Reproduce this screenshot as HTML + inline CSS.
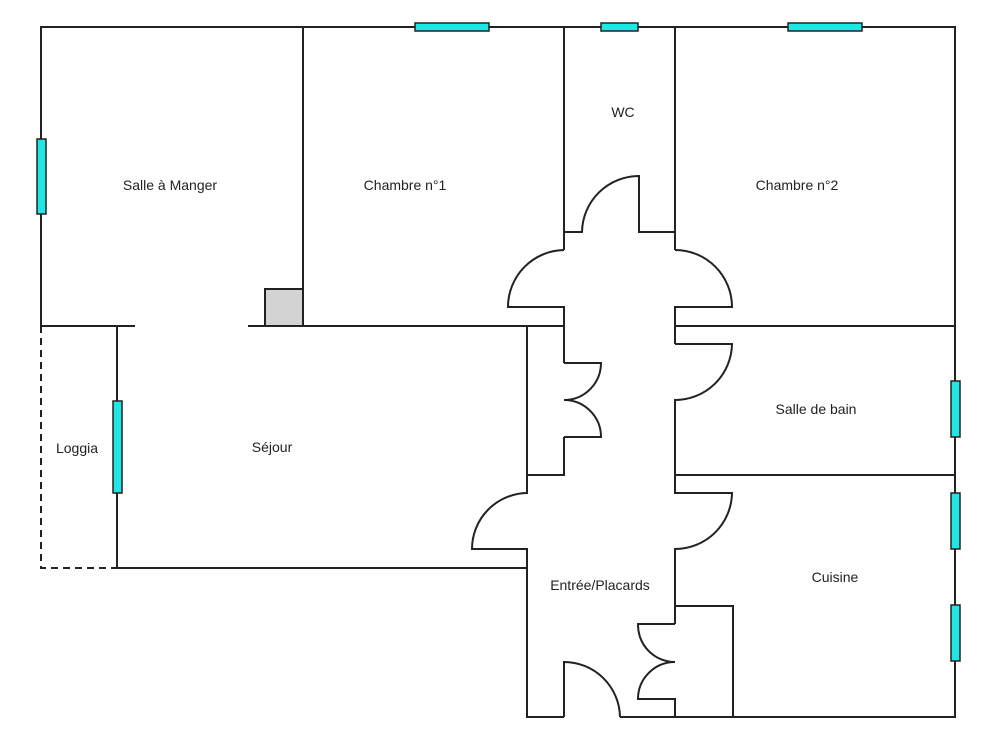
<!DOCTYPE html>
<html><head><meta charset="utf-8"><style>
html,body{margin:0;padding:0;background:#fff;width:1000px;height:741px;overflow:hidden}
svg{display:block}
text{font-family:"Liberation Sans",Arial,sans-serif;font-size:14px;fill:#222;text-anchor:middle}
</style></head><body>
<svg width="1000" height="741" viewBox="0 0 1000 741" xmlns="http://www.w3.org/2000/svg">
<g fill="none" stroke="#222" stroke-width="2">
<!-- outer -->
<path d="M41 326 V27 H955 V717 H620"/>
<path d="M564 717 H527 V549 H472 A56 56 0 0 1 527 493 V475 H564 V437"/>
<path d="M303 27 V326"/>
<path d="M41 326 H135 M248 326 H564"/>
<path d="M675 326 H955"/>
<!-- WC -->
<path d="M564 27 V250"/>
<path d="M675 27 V250"/>
<path d="M564 232 H582 A57 57 0 0 1 639 176 V232 H675"/>
<!-- corridor doors top -->
<path d="M564 250 A57 57 0 0 0 508 307 H564 V363"/>
<path d="M675 250 A57 57 0 0 1 732 307 H675 V344"/>
<!-- left closet -->
<path d="M527 326 V475"/>
<path d="M564 363 H601 A37 37 0 0 1 564 400 A37 37 0 0 1 601 437 H564"/>
<!-- bath door -->
<path d="M675 344 H732 A57 57 0 0 1 675 400 V493 H732 A57 57 0 0 1 675 549 V624"/>
<path d="M675 475 H955"/>
<!-- small closet -->
<path d="M675 624 H638 A37 37 0 0 0 675 662 A37 37 0 0 0 638 699 H675 V717"/>
<path d="M675 606 H733 V717"/>
<!-- entry door -->
<path d="M564 717 V662 A56 56 0 0 1 620 717"/>
<!-- séjour -->
<path d="M117 326 V568 H527"/>
<path d="M41 326 V568 H117" stroke-dasharray="7,5"/>
</g>
<rect x="265" y="289" width="38" height="37" fill="#d3d3d3" stroke="#222" stroke-width="2"/>
<g fill="#22e5e5" stroke="#222" stroke-width="1.5">
<rect x="415" y="23" width="74" height="8"/>
<rect x="601" y="23" width="37" height="8"/>
<rect x="788" y="23" width="74" height="8"/>
<rect x="37" y="139" width="9" height="75"/>
<rect x="113" y="401" width="9" height="92"/>
<rect x="951" y="381" width="9" height="56"/>
<rect x="951" y="493" width="9" height="56"/>
<rect x="951" y="605" width="9" height="56"/>
</g>
<text x="170" y="190">Salle à Manger</text>
<text x="405" y="190">Chambre n°1</text>
<text x="623" y="117">WC</text>
<text x="797" y="190">Chambre n°2</text>
<text x="77" y="453">Loggia</text>
<text x="272" y="452">Séjour</text>
<text x="816" y="414">Salle de bain</text>
<text x="835" y="582">Cuisine</text>
<text x="600" y="590">Entrée/Placards</text>
</svg>
</body></html>
